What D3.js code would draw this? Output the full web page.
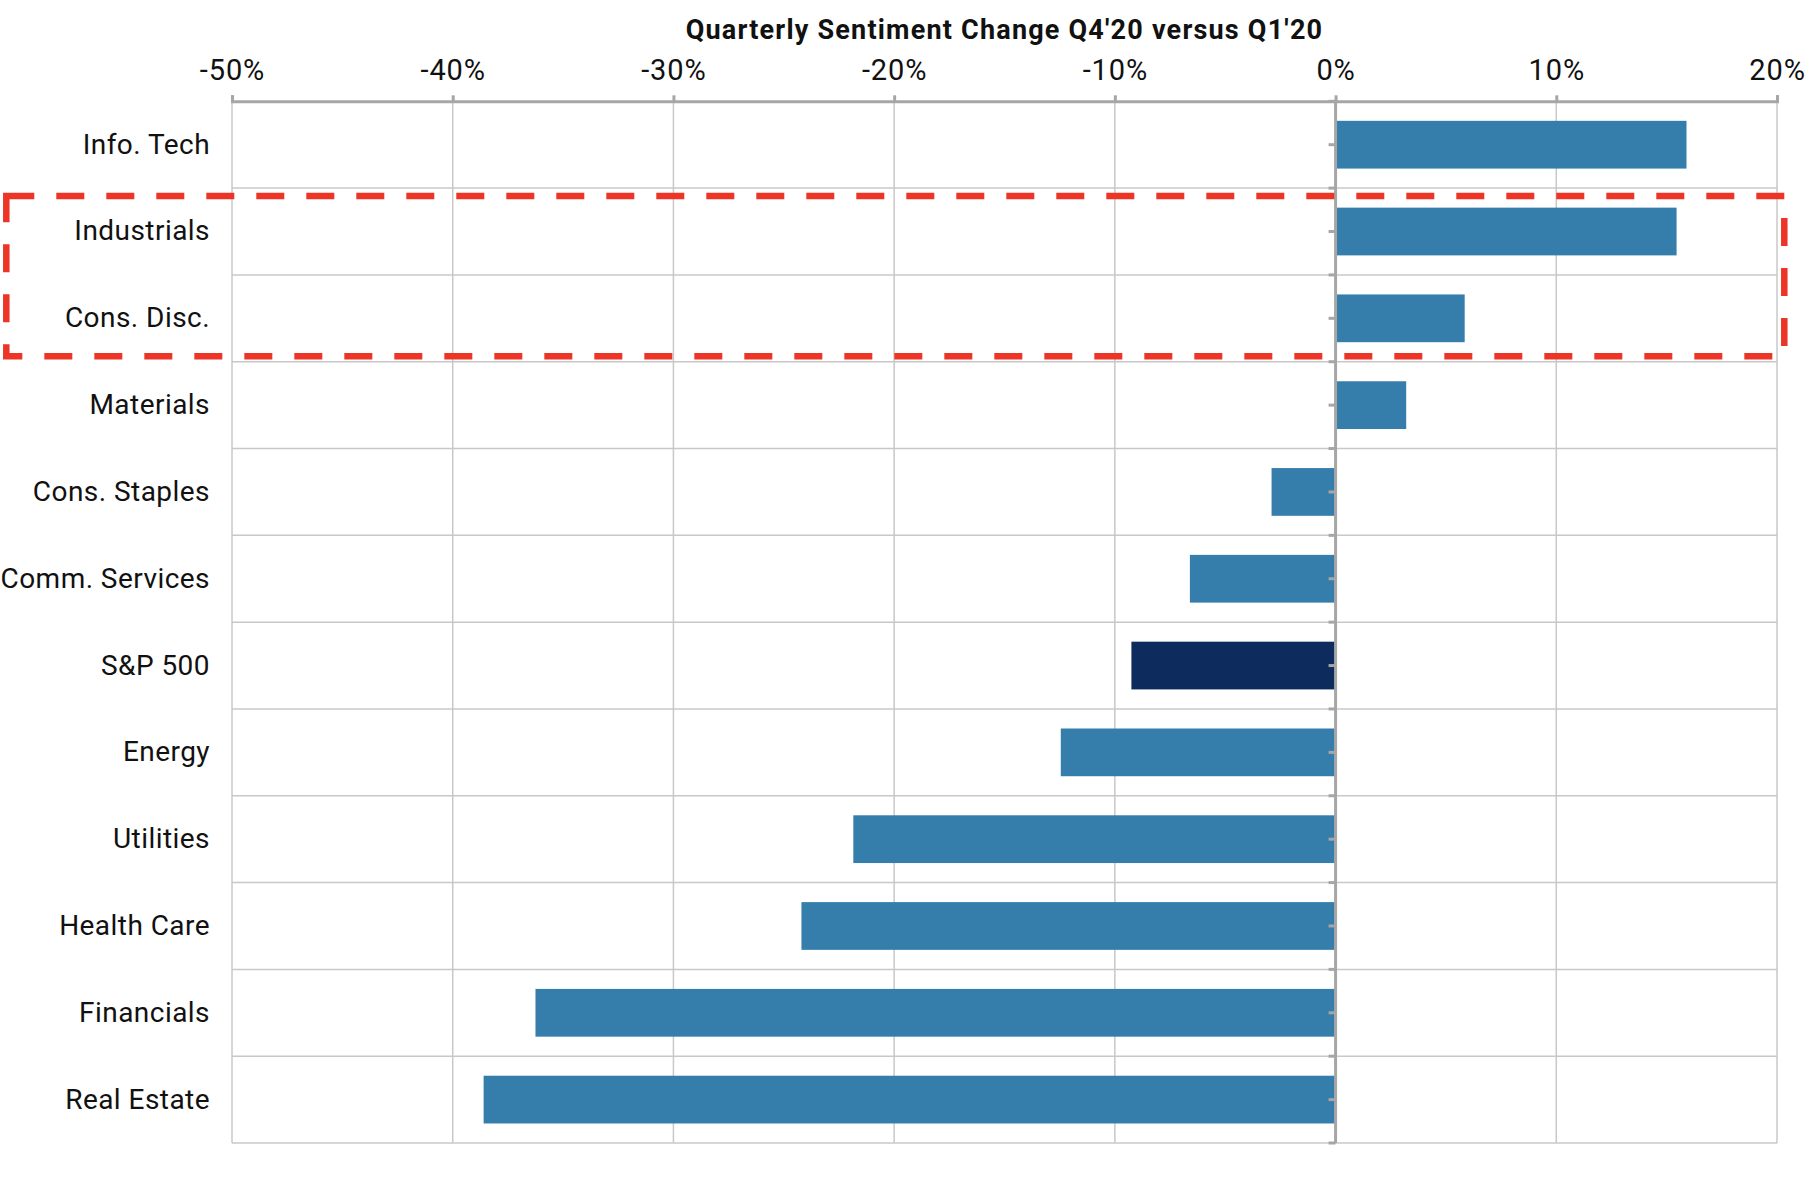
<!DOCTYPE html>
<html>
<head>
<meta charset="utf-8">
<script src="https://cdn.jsdelivr.net/npm/d3@7"></script>
<style>
  html, body { margin: 0; padding: 0; background: #fff; }
  svg { display: block; }
  text { font-family: Roboto, "Noto Sans", sans-serif; }
</style>
</head>
<body>
<svg id="chart" width="1816" height="1196"></svg>
<script>
const categories = ["Info. Tech", "Industrials", "Cons. Disc.", "Materials", "Cons. Staples",
  "Comm. Services", "S&P 500", "Energy", "Utilities", "Health Care", "Financials", "Real Estate"];
const values = [15.9, 15.45, 5.85, 3.2, -2.9, -6.6, -9.25, -12.45, -21.85, -24.2, -36.25, -38.6];
const xTicks = [-50, -40, -30, -20, -10, 0, 10, 20];
const highlighted = ["Industrials", "Cons. Disc."];
const benchmark = "S&P 500";
const title = "Quarterly Sentiment Change Q4'20 versus Q1'20";

(function () {
const svg = d3.select("#chart");
const pLeft = 232, pRight = 1777, pTop = 101.3, pBottom = 1143;

const x = d3.scaleLinear().domain([-50, 20]).range([pLeft, pRight]);
const y = d3.scaleBand().domain(categories).range([pTop, pBottom]).paddingInner(0.45).paddingOuter(0.225);
const step = y.step();

// horizontal gridlines (category boundaries)
const boundaries = d3.range(categories.length + 1).map(i => pTop + i * step);
svg.append("g").selectAll("line").data(boundaries.slice(1)).join("line")
  .attr("x1", pLeft).attr("x2", pRight)
  .attr("y1", d => d).attr("y2", d => d)
  .attr("stroke", "#c8c8c8").attr("stroke-width", 1.5);

// vertical gridlines
svg.append("g").selectAll("line").data(xTicks.filter(t => t !== 0)).join("line")
  .attr("x1", d => x(d)).attr("x2", d => x(d))
  .attr("y1", pTop).attr("y2", pBottom)
  .attr("stroke", "#c8c8c8").attr("stroke-width", 1.5);

// bars
svg.append("g").selectAll("rect").data(categories).join("rect")
  .attr("x", (d, i) => x(Math.min(0, values[i])))
  .attr("width", (d, i) => Math.abs(x(values[i]) - x(0)))
  .attr("y", d => y(d))
  .attr("height", y.bandwidth())
  .attr("fill", d => d === benchmark ? "#0d2b5c" : "#357eab");

// top axis
const xAxis = d3.axisTop(x).tickValues(xTicks).tickFormat(d => d + "%").tickSize(6).tickPadding(15);
const ax = svg.append("g").attr("transform", `translate(0,${pTop})`).call(xAxis);
ax.select(".domain").attr("stroke", "#a6a6a6").attr("stroke-width", 3);
ax.selectAll(".tick line").attr("stroke", "#a6a6a6").attr("stroke-width", 3);
ax.selectAll(".tick text").attr("font-size", 29).attr("fill", "#111")
  .attr("font-family", "Roboto, sans-serif").style("letter-spacing", "0.9px");

// zero line with ticks
const zx = x(0);
const zg = svg.append("g");
const tickYs = boundaries.concat(categories.map(c => y(c) + y.bandwidth() / 2));
zg.selectAll("line.t").data(tickYs).join("line").attr("class", "t")
  .attr("x1", zx - 7).attr("x2", zx)
  .attr("y1", d => d).attr("y2", d => d)
  .attr("stroke", "#a6a6a6").attr("stroke-width", 3);
zg.append("line").attr("x1", zx).attr("x2", zx).attr("y1", pTop).attr("y2", pBottom)
  .attr("stroke", "#a6a6a6").attr("stroke-width", 3);

// category labels
svg.append("g").selectAll("text").data(categories).join("text")
  .attr("x", 210)
  .attr("y", d => y(d) + y.bandwidth() / 2)
  .attr("dy", "0.32em")
  .attr("text-anchor", "end")
  .attr("font-size", 28)
  .attr("fill", "#111")
  .style("letter-spacing", "0.45px")
  .text(d => d);

// title
svg.append("text")
  .attr("x", (pLeft + pRight) / 2).attr("y", 39)
  .attr("text-anchor", "middle")
  .attr("font-size", 27).attr("font-weight", "bold").attr("fill", "#111")
  .style("letter-spacing", "1.2px")
  .text(title);

// highlight box
const hTop = y(highlighted[0]) - step * y.paddingInner() / 2 + 8;
const hBot = y(highlighted[highlighted.length - 1]) + y.bandwidth() + step * y.paddingInner() / 2 - 5.6;
svg.append("rect")
  .attr("x", 6.3).attr("y", hTop)
  .attr("width", 1784.3 - 6.3).attr("height", hBot - hTop)
  .attr("fill", "none").attr("stroke", "#ec3526").attr("stroke-width", 6.5)
  .attr("stroke-dasharray", "28,22");
})();
</script>
</body>
</html>
